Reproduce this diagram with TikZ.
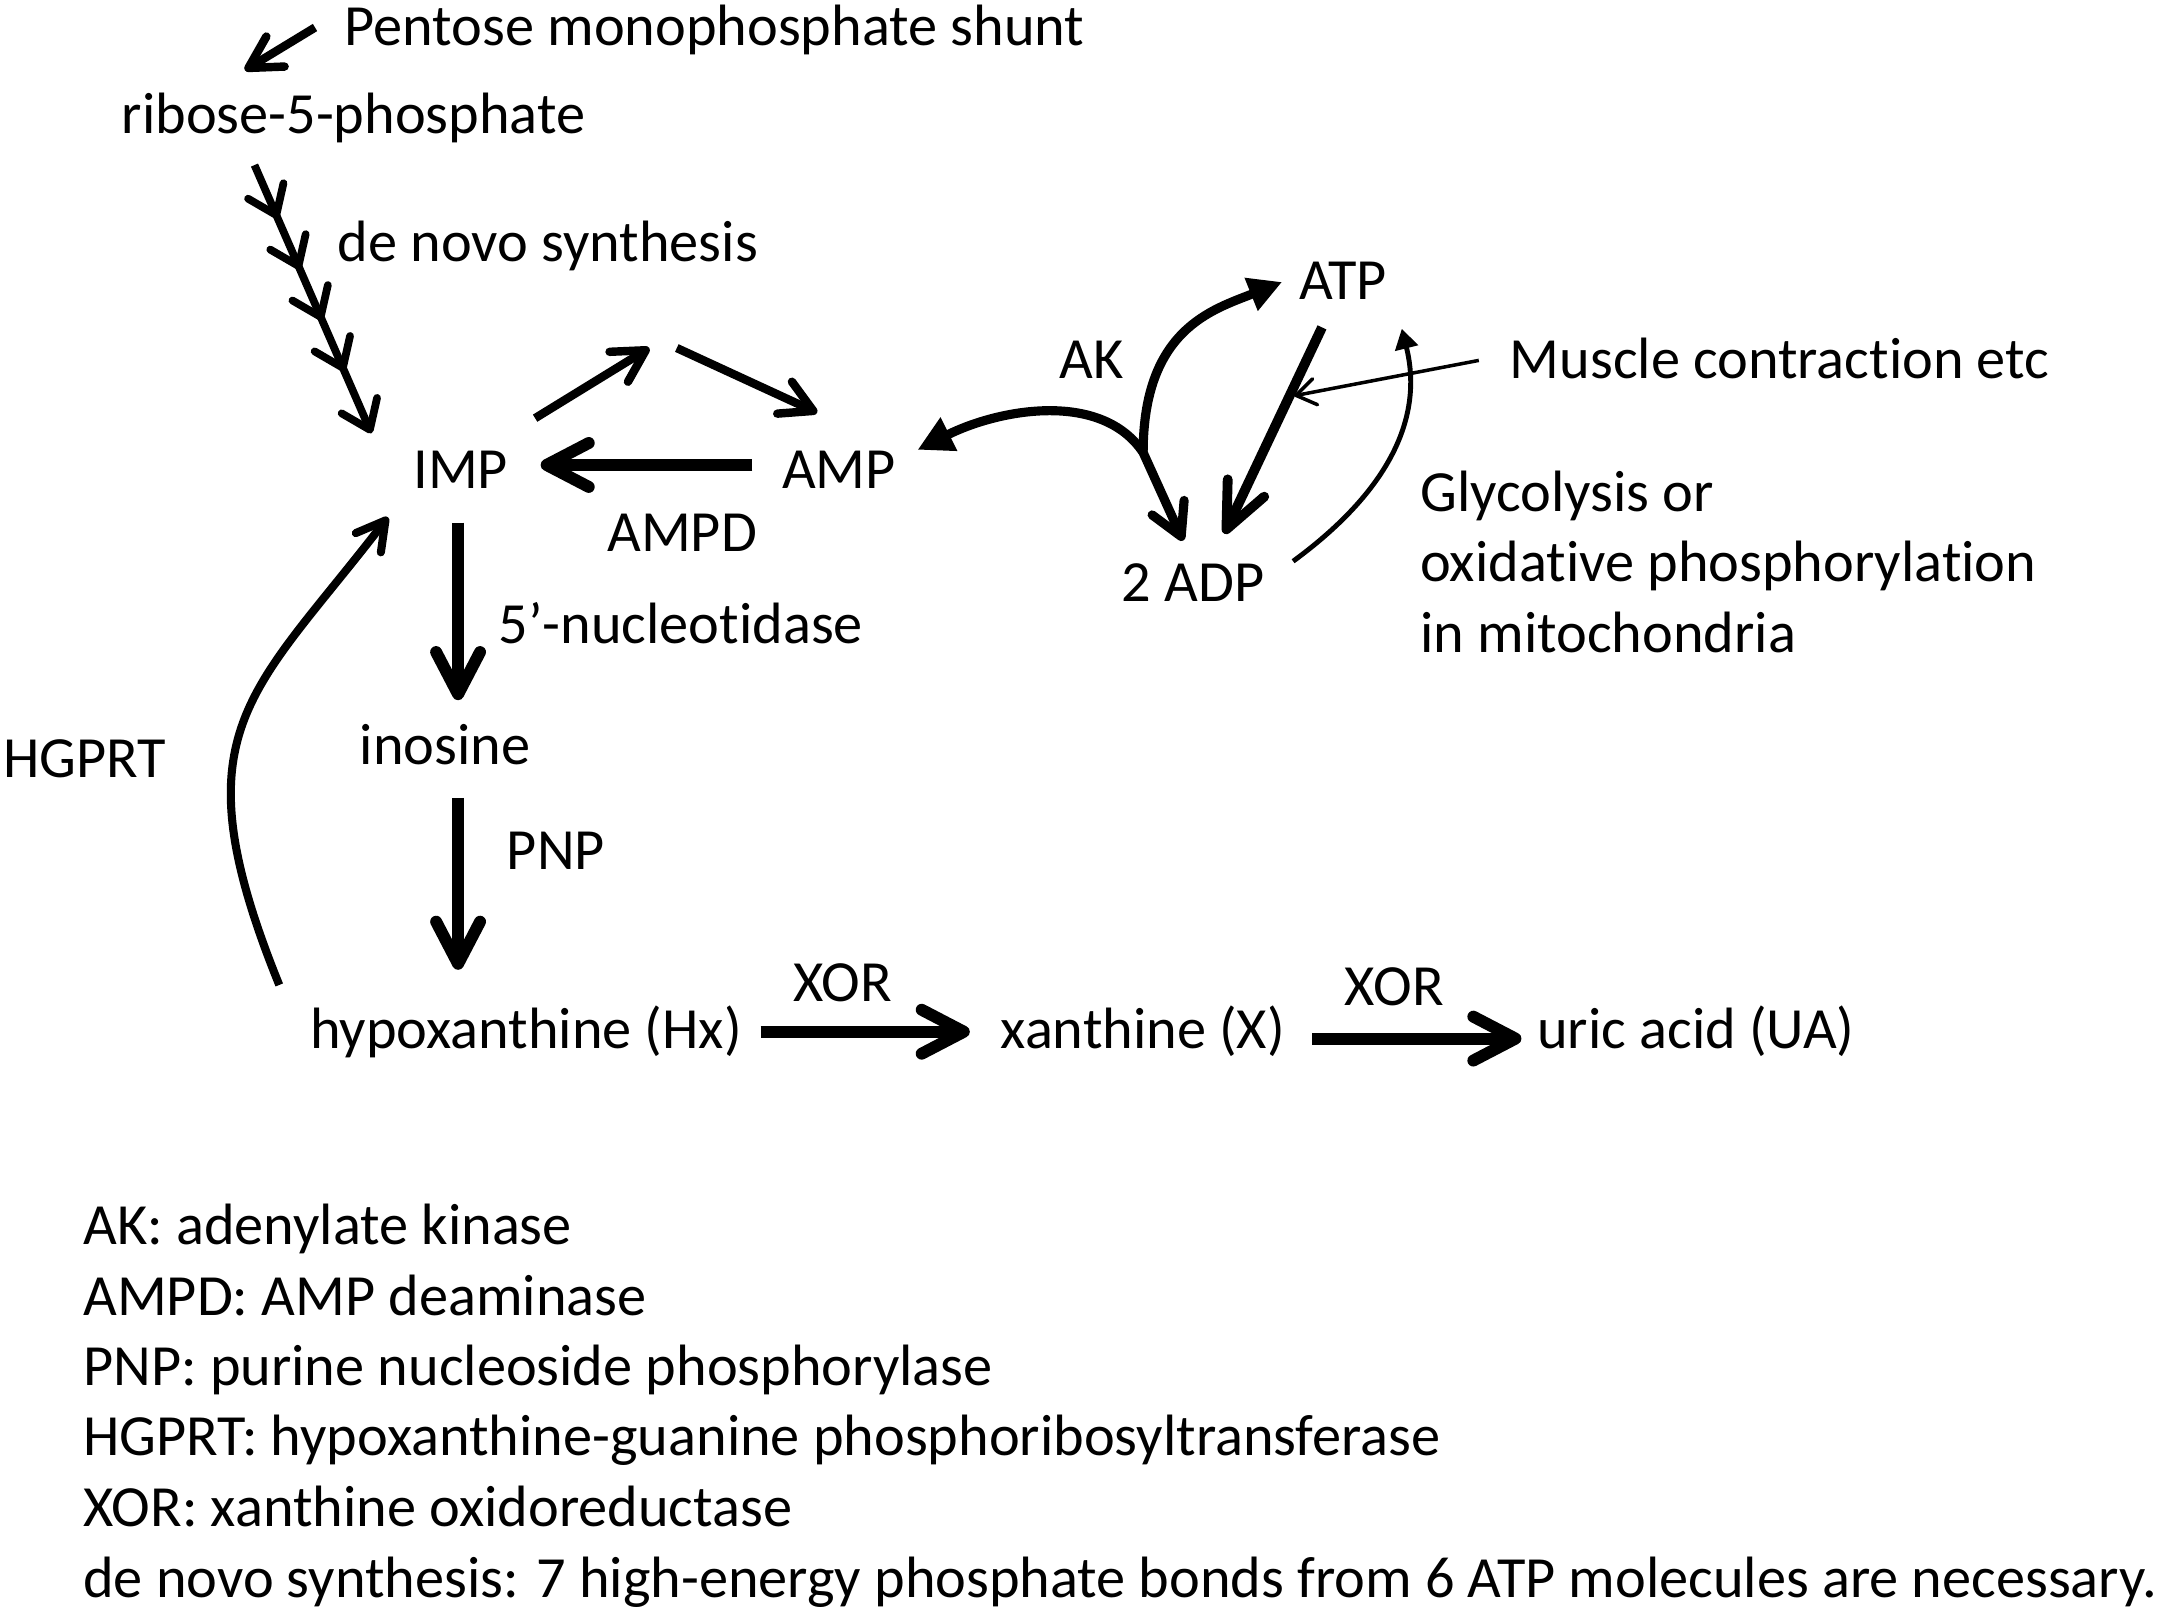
\documentclass[tikz,border=0pt]{standalone}
\usepackage{fontspec}
\setmainfont{Carlito}[Ligatures=NoCommon]
\usepackage{tikz}
\usetikzlibrary{arrows.meta, decorations.markings}
\tikzstyle{txt} = [inner sep=0pt, anchor=base west, font=\fontsize{16.6}{20}\selectfont]
\tikzstyle{arrow} = [line width=3.4pt, -{Straight Barb[length=12pt, width=12.5pt, round]}]
\tikzstyle{longarrow} = [line width=2.8pt, -{Straight Barb[length=13pt, width=11.5pt, round]}]
\tikzstyle{midarrow} = [line width=2.4pt, -{Straight Barb[length=9pt, width=10pt, round]}]
\tikzstyle{hgarrow} = [line width=2.3pt, -{Straight Barb[length=8pt, width=9pt, round]}]
\tikzstyle{thinarrow} = [line width=1pt, -{Straight Barb[length=5.5pt, width=7.5pt, round]}]
\tikzstyle{glyarrow} = [line width=1.4pt, -{Triangle[length=5.7pt, width=6.5pt]}]
\tikzstyle{akline} = [line width=2.6pt]
\tikzstyle{denovo} = [line width=2.2pt, -{Straight Barb[length=7.5pt, width=11pt, round]},
  postaction={decorate}, decoration={markings,
    mark=at position 0.2 with {\arrow{Straight Barb[length=7.5pt, width=11pt, round]}},
    mark=at position 0.39 with {\arrow{Straight Barb[length=7.5pt, width=11pt, round]}},
    mark=at position 0.58 with {\arrow{Straight Barb[length=7.5pt, width=11pt, round]}},
    mark=at position 0.77 with {\arrow{Straight Barb[length=7.5pt, width=11pt, round]}}}]

\begin{document}
\begin{tikzpicture}[x=0.013756cm, y=-0.013756cm]
    \useasboundingbox (0,0) rectangle (1568,1173);
    % Nodes
    \node (pentose) [txt] at (250,33) {Pentose monophosphate shunt};
    \node (ribose) [txt] at (88,97) {ribose-5-phosphate};
    \node (denovo) [txt] at (245,190) {de novo synthesis};
    \node (imp) [txt] at (300,355) {IMP};
    \node (amp) [txt] at (568,355) {AMP};
    \node (ampd) [txt] at (441,401) {AMPD};
    \node (ak) [txt] at (770,275) {AK};
    \node (atp) [txt] at (944,218) {ATP};
    \node (adp) [txt] at (815,437) {2 ADP};
    \node (muscle) [txt] at (1097,275) {Muscle contraction etc};
    \node (gly1) [txt] at (1032,372) {Glycolysis or};
    \node (gly2) [txt] at (1032,423) {oxidative phosphorylation};
    \node (gly3) [txt] at (1032,474) {in mitochondria};
    \node (nucl) [txt] at (362,468) {5’-nucleotidase};
    \node (inosine) [txt] at (261,556) {inosine};
    \node (pnp) [txt] at (368,632) {PNP};
    \node (hgprt) [txt] at (2,565) {HGPRT};
    \node (hx) [txt] at (225,762) {hypoxanthine (Hx)};
    \node (xor1) [txt] at (576,728) {XOR};
    \node (xan) [txt] at (727,762) {xanthine (X)};
    \node (xor2) [txt] at (977,731) {XOR};
    \node (ua) [txt] at (1117,762) {uric acid (UA)};
    % Legend
    \node (leg1) [txt] at (60,905) {AK: adenylate kinase};
    \node (leg2) [txt] at (60,956) {AMPD: AMP deaminase};
    \node (leg3) [txt] at (60,1007) {PNP: purine nucleoside phosphorylase};
    \node (leg4) [txt] at (60,1058) {HGPRT: hypoxanthine-guanine phosphoribosyltransferase};
    \node (leg5) [txt] at (60,1110) {XOR: xanthine oxidoreductase};
    \node (leg6) [txt] at (60,1161) {de novo synthesis: 7 high-energy phosphate bonds from 6 ATP molecules are necessary.};
    % Free ends
    \coordinate (apexl) at ([shift={(172,-102)}]imp.base west);
    \coordinate (apexr) at ([shift={(-76,-102)}]amp.base west);
    \coordinate (akjoin) at ([shift={(16,-108)}]adp.base west);
    % Arrows
    \draw [midarrow] ([shift={(-21,-13)}]pentose.base west) -- ([shift={(90,-46)}]ribose.base west);
    \draw [denovo] ([shift={(97,23)}]ribose.base west) -- ([shift={(-30,-40)}]imp.base west);
    \draw [midarrow] ([shift={(89,-51)}]imp.base west) -- (apexl);
    \draw [midarrow] (apexr) -- ([shift={(26,-55)}]amp.base west);
    \draw [arrow] ([shift={(-21,-17)}]amp.base west) -- ([shift={(93,-17)}]imp.base west);
    \draw [akline, {Straight Barb[length=9pt, width=10pt, round]}-{Triangle[length=10pt, width=10pt]}]
        ([shift={(45,-44)}]adp.base west) -- (akjoin)
        .. controls +(-30,-45) and +(60,-30) .. ([shift={(99,-28)}]amp.base west);
    \draw [akline, -{Triangle[length=9.5pt, width=9.5pt]}] (akjoin)
        .. controls +(0,-90) and +(-50,20) .. ([shift={(-12,-13)}]atp.base west);
    \draw [longarrow] ([shift={(17,20)}]atp.base west) -- coordinate[pos=0.336] (hit) ([shift={(75,-49)}]adp.base west);
    \draw [thinarrow, shorten >=1.5pt] ([shift={(-22,-13)}]muscle.base west) -- (hit);
    \draw [glyarrow] ([shift={(125,-29)}]adp.base west)
        .. controls +(75,-55) and +(15,60) .. ([shift={(75,21)}]atp.base west);
    \draw [arrow] ([shift={(33,25)}]imp.base west) -- ([shift={(72,-47)}]inosine.base west);
    \draw [arrow] ([shift={(72,24)}]inosine.base west) -- ([shift={(108,-57)}]hx.base west);
    \draw [arrow] ([shift={(328,-12)}]hx.base west) -- ([shift={(-22,-12)}]xan.base west);
    \draw [arrow] ([shift={(227,-7)}]xan.base west) -- ([shift={(-11,-7)}]ua.base west);
    \draw [hgarrow] ([shift={(-22,-46)}]hx.base west)
        .. controls +(-75,-185) and +(-100,130) .. ([shift={(-18,21)}]imp.base west);
\end{tikzpicture}
\end{document}
